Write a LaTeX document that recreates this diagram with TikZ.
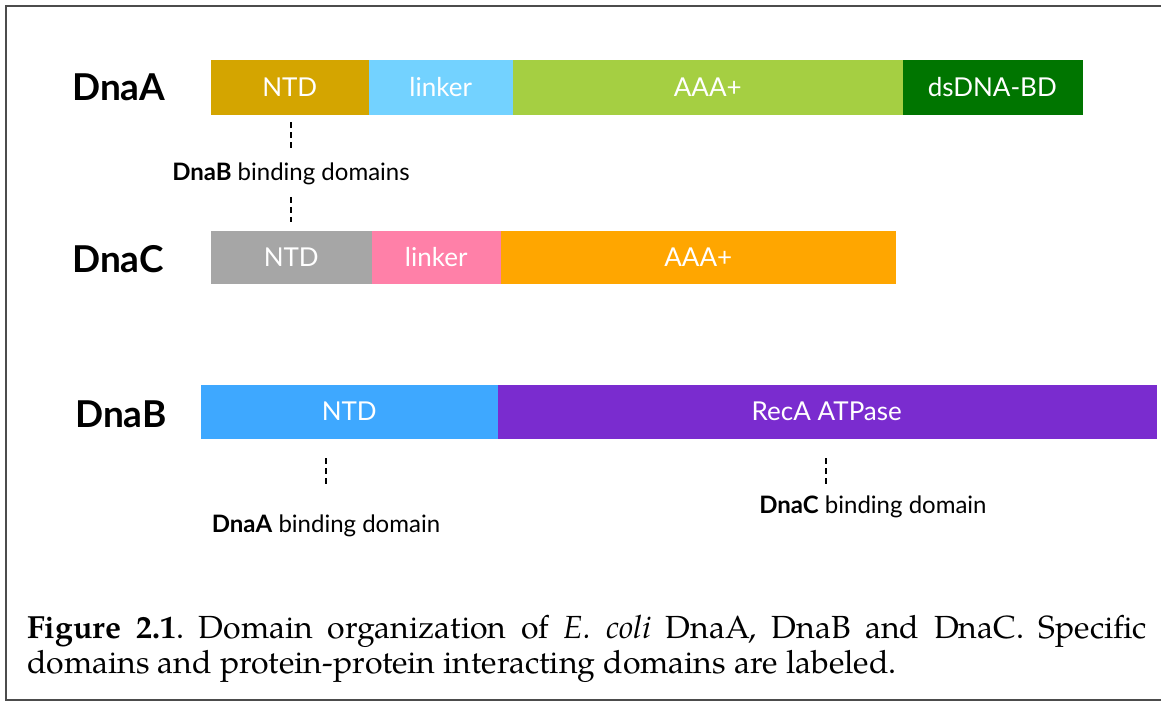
\documentclass[tikz,border=0pt]{standalone}
\usepackage{fontspec}
\setsansfont{Lato}
\newfontfamily\captionfont{TeX Gyre Pagella}
\usetikzlibrary{calc}

% domain colours
\definecolor{cNtdA}{RGB}{212,165,0}
\definecolor{cLinkA}{RGB}{115,210,255}
\definecolor{cAaaA}{RGB}{165,207,66}
\definecolor{cDsA}{RGB}{0,117,0}
\definecolor{cNtdC}{RGB}{166,166,166}
\definecolor{cLinkC}{RGB}{255,128,168}
\definecolor{cAaaC}{RGB}{255,166,0}
\definecolor{cNtdB}{RGB}{62,168,255}
\definecolor{cRecB}{RGB}{122,44,207}

\begin{document}
\begin{tikzpicture}[x=1pt,y=-1pt,
  seg/.style={rectangle, inner sep=0pt, anchor=west, text=white,
    fill=#1, draw=#1, line width=0.5pt,
    font=\sffamily\fontsize{26}{30}\selectfont},
  prot/.style={anchor=base west, inner sep=0pt,
    font=\sffamily\bfseries\fontsize{37}{44}\selectfont},
  bind/.style={anchor=base, inner sep=0pt,
    font=\sffamily\fontsize{24}{29}\selectfont},
  dotline/.style={line width=2.4pt, dash pattern=on 6pt off 4pt},
  frame/.style={draw=black!70, line width=1.6pt}]
\useasboundingbox (0,0) rectangle (1161,702);
% open frame (right side runs off the page)
\draw[frame] (1165,6) -- (6,6) -- (6,700) -- (1165,700);

% DnaA
\node[prot] (lblA) at (72,100) {DnaA};
\node[seg=cNtdA, minimum width=157, minimum height=54] (aN) at (211,87) {NTD};
\node[seg=cLinkA, minimum width=144, minimum height=54] (aL) at (aN.east) {linker};
\node[seg=cAaaA, minimum width=389, minimum height=54] (aA) at (aL.east) {AAA+};
\node[seg=cDsA, minimum width=179, minimum height=54] (aD) at (aA.east) {dsDNA-BD};

% DnaC
\node[prot] (lblC) at (72,272) {DnaC};
\node[seg=cNtdC, minimum width=160, minimum height=52] (cN) at (211,257) {NTD};
\node[seg=cLinkC, minimum width=129, minimum height=52] (cL) at (cN.east) {linker};
\node[seg=cAaaC, minimum width=394, minimum height=52] (cA) at (cL.east) {AAA+};

% DnaB
\node[prot] (lblB) at (75,427) {DnaB};
\node[seg=cNtdB, minimum width=296, minimum height=53] (bN) at (201,411.5) {NTD};
\node[seg=cRecB, minimum width=658, minimum height=53] (bR) at (bN.east) {RecA ATPase};

% binding-domain labels
\node[bind] (bindB) at (291,180) {\textbf{DnaB} binding domains};
\node[bind] (bindA) at (326,532) {\textbf{DnaA} binding domain};
\node[bind] (bindC) at (873,513) {\textbf{DnaC} binding domain};

% dotted connectors
\draw[dotline] ($(aN.south)+(1.5,8)$) -- ($(aN.south)+(1.5,34)$);
\draw[dotline] ($(cN.north)+(0,-34)$) -- ($(cN.north)+(0,-9)$);
\draw[dotline] ($(bN.south -| bindA.north)+(0,20)$) -- ++(0,26);
\draw[dotline] ($(bR.south)+(-1,20)$) -- ++(0,26);

% caption
\node[anchor=north west, inner sep=0pt, text width=1120pt, align=justify,
  font=\captionfont\fontsize{32}{35}\selectfont\frenchspacing] (cap) at (27,615)
  {{\bfseries Figure 2.1}. Domain organization of \textit{E. coli} DnaA, DnaB and DnaC. Specific\linebreak
   domains and protein-protein interacting domains are labeled.};
\end{tikzpicture}
\end{document}
